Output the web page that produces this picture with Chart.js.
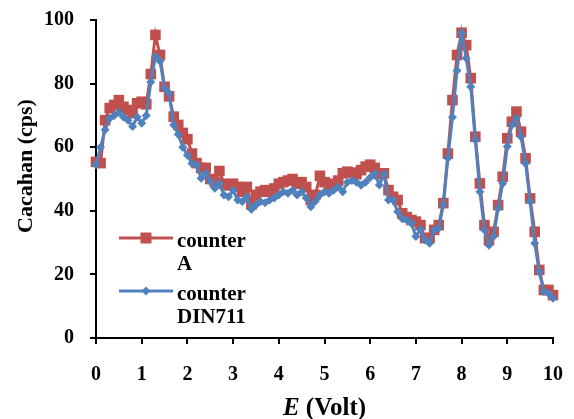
<!DOCTYPE html>
<html>
<head>
<meta charset="utf-8">
<script src="https://cdn.jsdelivr.net/npm/chart.js@4.4.0/dist/chart.umd.min.js"></script>
<style>
html,body{margin:0;padding:0;background:#fff;overflow:hidden}
canvas{display:block}
</style>
</head>
<body>
<canvas id="c" width="574" height="419"></canvas>
<script>
// E (Volt)
const energyVolt = [
  0.0,0.1,0.2,0.3,0.4,0.5,0.6,0.7,0.8,0.9,
  1.0,1.1,1.2,1.3,1.4,1.5,1.6,1.7,1.8,1.9,
  2.0,2.1,2.2,2.3,2.4,2.5,2.6,2.7,2.8,2.9,
  3.0,3.1,3.2,3.3,3.4,3.5,3.6,3.7,3.8,3.9,
  4.0,4.1,4.2,4.3,4.4,4.5,4.6,4.7,4.8,4.9,
  5.0,5.1,5.2,5.3,5.4,5.5,5.6,5.7,5.8,5.9,
  6.0,6.1,6.2,6.3,6.4,6.5,6.6,6.7,6.8,6.9,
  7.0,7.1,7.2,7.3,7.4,7.5,7.6,7.7,7.8,7.9,
  8.0,8.1,8.2,8.3,8.4,8.5,8.6,8.7,8.8,8.9,
  9.0,9.1,9.2,9.3,9.4,9.5,9.6,9.7,9.8,9.9,
  10.0
];
// Cacahan (cps) - counter A
const counterA = [
  55.4,55,68.5,72.3,73.3,74.8,72.7,71.7,70.7,73.8,
  74.3,73.5,83,95.3,89,79,76,69.6,67,64.5,
  62.5,58,55,53.5,53.5,50,49,52.5,48.5,48,
  48.5,47.5,46,47.5,42,45,46,46.5,46,47,
  48.5,49,49.5,50,48.5,49,47.5,43.4,45,51,
  49,48,48.5,49.5,51.8,52.3,52,51.5,52.8,53.9,
  54.5,53.5,51.5,51.8,46.5,44.4,43.4,39.2,38,37.1,
  36.6,35.5,31.4,31.5,34,35.5,42.4,58,74.8,89,
  96,92.1,81.7,63.3,48.6,35.5,30.8,33.4,41.8,50.7,
  62.8,68,71.2,64.9,56.5,43.9,33.4,21.4,15.1,15.1,
  13.5
];
// Cacahan (cps) - counter DIN711
const counterDIN711 = [
  54.5,60,65.5,69,70,71,69.5,68.5,66.5,69.5,
  67.5,70,80.5,88.5,87,78.5,77,67,64,60,
  57.5,54.9,54.4,50.2,51.8,49.2,47.1,48.6,45,44.4,
  46.5,43.4,42.9,44.4,40.5,41.8,42.9,42.5,43.4,44,
  45,46,45.5,46.5,45,46,44,41.3,43,45,
  46,45.5,46.5,47.5,46,49,49.5,49,48,49,
  50.5,51.8,48.1,51.6,43.4,43.4,39.7,37.6,37.1,36.1,
  31.9,34.2,30.8,29.8,34,34.5,41.8,56.5,69.4,84.1,
  95.8,88,79,62.3,46,34,29.2,31.9,40.8,48.6,
  60.2,67,69.1,63.3,54.9,42.9,29.8,20.8,14.6,14.1,
  12.5
];
const seriesNames = ['counter A', 'counter DIN711'];
const legendLines = [['counter', 'A'], ['counter', 'DIN711']];
const yAxisTitle = 'Cacahan (cps)';
const xAxisTitleItalic = 'E';
const xAxisTitleRest = ' (Volt)';

const FONT = "'Liberation Serif', 'Times New Roman', serif";
const RED = '#C0504D';
const BLUE = '#4F81BD';

const overlayPlugin = {
  id: 'overlay',
  afterDraw(chart) {
    const ctx = chart.ctx;
    const area = chart.chartArea;
    ctx.save();
    ctx.fillStyle = '#000';
    // Y title
    ctx.save();
    ctx.translate(26, 166);
    ctx.rotate(-Math.PI / 2);
    ctx.font = "bold 22px " + FONT;
    ctx.textAlign = 'center';
    ctx.textBaseline = 'middle';
    ctx.fillText(yAxisTitle, 0, 0);
    ctx.restore();
    // X title
    ctx.textBaseline = 'alphabetic';
    ctx.font = "italic bold 25px " + FONT;
    const w1 = ctx.measureText(xAxisTitleItalic).width;
    ctx.font = "bold 25px " + FONT;
    const w2 = ctx.measureText(xAxisTitleRest).width;
    const cx = (area.left + area.right) / 2;
    let sx = cx - (w1 + w2) / 2;
    ctx.font = "italic bold 25px " + FONT;
    ctx.textAlign = 'left';
    ctx.fillText(xAxisTitleItalic, sx, 415);
    ctx.font = "bold 25px " + FONT;
    ctx.fillText(xAxisTitleRest, sx + w1, 415);
    // Legend
    const items = [
      {color: RED, style: 'rect', y: 238, lines: legendLines[0], base: 247},
      {color: BLUE, style: 'diamond', y: 291, lines: legendLines[1], base: 300}
    ];
    items.forEach(it => {
      ctx.strokeStyle = it.color;
      ctx.lineWidth = 3;
      ctx.beginPath();
      ctx.moveTo(119, it.y);
      ctx.lineTo(173, it.y);
      ctx.stroke();
      ctx.fillStyle = it.color;
      if (it.style === 'rect') {
        ctx.fillRect(146 - 5.5, it.y - 5.5, 11, 11);
      } else {
        ctx.beginPath();
        ctx.moveTo(146, it.y - 4.5);
        ctx.lineTo(150.5, it.y);
        ctx.lineTo(146, it.y + 4.5);
        ctx.lineTo(141.5, it.y);
        ctx.closePath();
        ctx.fill();
      }
      ctx.fillStyle = '#000';
      ctx.font = "bold 21px " + FONT;
      ctx.textAlign = 'left';
      ctx.fillText(it.lines[0], 177, it.base);
      ctx.fillText(it.lines[1], 177, it.base + 23);
    });
    ctx.restore();
  }
};

const tickFont = {family: FONT, size: 20, weight: 'bold'};

new Chart(document.getElementById('c'), {
  type: 'line',
  data: {
    datasets: [
      {
        label: seriesNames[0],
        data: energyVolt.map((x, i) => ({x: x, y: counterA[i]})),
        borderColor: RED,
        backgroundColor: RED,
        borderWidth: 3,
        pointStyle: 'rect',
        pointRadius: 7.5,
        pointBorderWidth: 0,
        pointBackgroundColor: RED,
        tension: 0,
        clip: false,
        order: 2
      },
      {
        label: seriesNames[1],
        data: energyVolt.map((x, i) => ({x: x, y: counterDIN711[i]})),
        borderColor: BLUE,
        backgroundColor: BLUE,
        borderWidth: 3,
        pointStyle: 'rectRot',
        pointRadius: 4.5,
        pointBorderWidth: 0,
        pointBackgroundColor: BLUE,
        tension: 0,
        clip: false,
        order: 1
      }
    ]
  },
  options: {
    responsive: false,
    animation: false,
    devicePixelRatio: 1,
    layout: {padding: {left: 0, right: 21, top: 20, bottom: 0}},
    plugins: {legend: {display: false}, tooltip: {enabled: false}},
    scales: {
      x: {
        type: 'linear', min: 0, max: 10,
        ticks: {stepSize: 1, color: '#000', font: tickFont, padding: 19, maxRotation: 0, autoSkip: false},
        grid: {drawOnChartArea: false, drawTicks: true, tickLength: 6, color: '#000', lineWidth: 2},
        border: {display: true, color: '#000', width: 2},
        afterFit(s) { s.height = 81; s.paddingRight = 0; s.paddingLeft = 0; }
      },
      y: {
        type: 'linear', min: 0, max: 100,
        ticks: {stepSize: 20, color: '#000', font: tickFont, padding: 16},
        grid: {drawOnChartArea: false, drawTicks: true, tickLength: 6, color: '#000', lineWidth: 2},
        border: {display: true, color: '#000', width: 2},
        afterFit(s) { s.width = 96; s.paddingTop = 0; s.paddingBottom = 0; }
      }
    }
  },
  plugins: [overlayPlugin]
});
</script>
</body>
</html>
